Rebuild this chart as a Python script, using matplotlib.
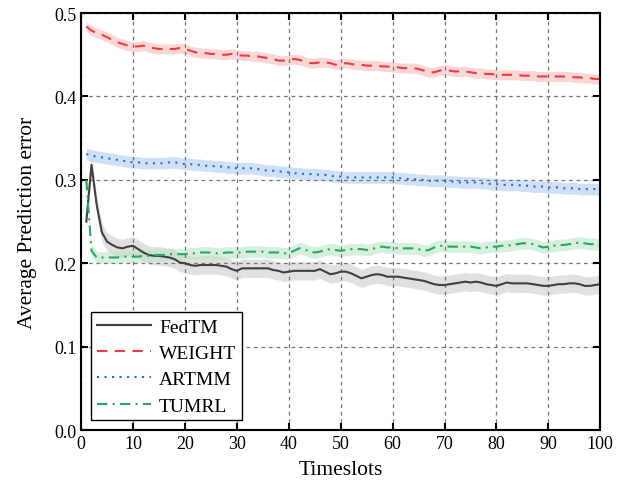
import matplotlib
matplotlib.use("Agg")
import matplotlib.pyplot as plt
import numpy as np

plt.rcParams['font.family'] = ['Liberation Serif', 'DejaVu Serif']
plt.rcParams['mathtext.fontset'] = 'stix'

timeslots = list(range(1, 101))

fedtm = [0.250, 0.318, 0.270, 0.237, 0.226, 0.222, 0.219, 0.218, 0.220, 0.221,
         0.217, 0.213, 0.210, 0.209, 0.209, 0.208, 0.207, 0.205, 0.201, 0.200,
         0.198, 0.197, 0.198, 0.198, 0.198, 0.198, 0.197, 0.196, 0.193, 0.191,
         0.194, 0.194, 0.194, 0.194, 0.194, 0.194, 0.192, 0.191, 0.189, 0.190,
         0.191, 0.191, 0.191, 0.191, 0.191, 0.193, 0.190, 0.187, 0.188, 0.190,
         0.190, 0.188, 0.185, 0.182, 0.184, 0.186, 0.187, 0.186, 0.184, 0.184,
         0.184, 0.183, 0.182, 0.181, 0.180, 0.179, 0.177, 0.175, 0.174, 0.174,
         0.175, 0.176, 0.177, 0.178, 0.177, 0.178, 0.177, 0.175, 0.174, 0.173,
         0.175, 0.177, 0.176, 0.176, 0.176, 0.176, 0.175, 0.174, 0.173, 0.173,
         0.174, 0.175, 0.175, 0.176, 0.176, 0.175, 0.173, 0.173, 0.174, 0.175]

weight = [0.484, 0.479, 0.476, 0.474, 0.471, 0.468, 0.465, 0.463, 0.461, 0.460,
          0.460, 0.461, 0.459, 0.458, 0.457, 0.457, 0.457, 0.457, 0.458, 0.457,
          0.455, 0.453, 0.452, 0.452, 0.451, 0.451, 0.450, 0.450, 0.451, 0.450,
          0.449, 0.449, 0.448, 0.448, 0.447, 0.446, 0.445, 0.443, 0.443, 0.444,
          0.445, 0.444, 0.442, 0.440, 0.440, 0.441, 0.441, 0.440, 0.438, 0.439,
          0.440, 0.439, 0.438, 0.438, 0.437, 0.437, 0.437, 0.436, 0.436, 0.435,
          0.435, 0.434, 0.434, 0.434, 0.433, 0.431, 0.429, 0.429, 0.431, 0.432,
          0.431, 0.430, 0.430, 0.430, 0.429, 0.428, 0.428, 0.427, 0.427, 0.426,
          0.426, 0.426, 0.426, 0.426, 0.425, 0.425, 0.425, 0.424, 0.424, 0.424,
          0.424, 0.424, 0.424, 0.424, 0.423, 0.423, 0.422, 0.422, 0.421, 0.421]

artmm = [0.331, 0.329, 0.328, 0.327, 0.326, 0.325, 0.324, 0.323, 0.322, 0.321,
         0.321, 0.320, 0.320, 0.320, 0.320, 0.320, 0.321, 0.321, 0.320, 0.319,
         0.319, 0.318, 0.318, 0.317, 0.317, 0.316, 0.316, 0.315, 0.315, 0.314,
         0.314, 0.314, 0.314, 0.313, 0.312, 0.311, 0.311, 0.310, 0.310, 0.309,
         0.308, 0.308, 0.307, 0.307, 0.307, 0.306, 0.306, 0.305, 0.304, 0.304,
         0.303, 0.303, 0.303, 0.303, 0.303, 0.303, 0.303, 0.303, 0.303, 0.303,
         0.302, 0.302, 0.301, 0.301, 0.300, 0.300, 0.299, 0.299, 0.299, 0.299,
         0.298, 0.298, 0.297, 0.297, 0.297, 0.297, 0.296, 0.296, 0.295, 0.295,
         0.294, 0.294, 0.294, 0.294, 0.293, 0.293, 0.292, 0.292, 0.292, 0.291,
         0.291, 0.291, 0.290, 0.290, 0.290, 0.289, 0.289, 0.289, 0.289, 0.288]

tumrl = [0.300, 0.215, 0.207, 0.207, 0.207, 0.207, 0.207, 0.208, 0.208, 0.208,
         0.208, 0.209, 0.209, 0.210, 0.210, 0.210, 0.211, 0.211, 0.211, 0.211,
         0.212, 0.212, 0.213, 0.213, 0.213, 0.212, 0.212, 0.213, 0.213, 0.213,
         0.213, 0.214, 0.214, 0.214, 0.214, 0.213, 0.213, 0.213, 0.212, 0.212,
         0.215, 0.218, 0.217, 0.214, 0.213, 0.214, 0.216, 0.217, 0.216, 0.215,
         0.216, 0.217, 0.217, 0.217, 0.216, 0.217, 0.219, 0.220, 0.219, 0.219,
         0.218, 0.218, 0.218, 0.218, 0.217, 0.215, 0.216, 0.219, 0.221, 0.221,
         0.220, 0.220, 0.220, 0.220, 0.220, 0.219, 0.218, 0.219, 0.220, 0.220,
         0.221, 0.221, 0.222, 0.223, 0.224, 0.224, 0.223, 0.221, 0.219, 0.220,
         0.221, 0.222, 0.222, 0.223, 0.224, 0.225, 0.224, 0.223, 0.223, 0.222]

names = ['FedTM', 'WEIGHT', 'ARTMM', 'TUMRL']
# half width of the shaded band round each curve
spread = [0.011, 0.006, 0.007, 0.007]


def main():
    fig = plt.figure(figsize=(6.24, 4.85), dpi=100)
    ax = fig.add_axes([0.130, 0.111, 0.832, 0.860])

    series = [fedtm, weight, artmm, tumrl]
    colors = ['#404040', '#f03c3c', '#1e6ee0', '#2aa65e']
    fills = ['#c8c8c8', '#f9b5b5', '#aac8f2', '#b5e2c6']
    styles = ['-', (0, (5, 3.5)), (0, (1, 2.6)), (0, (5, 2.5, 1, 2.5))]
    x = np.array(timeslots)
    for ys, name, c, fc, ls, s in zip(series, names, colors, fills, styles, spread):
        ys = np.array(ys)
        ax.fill_between(x, ys - s, ys + s, color=fc, alpha=0.55, linewidth=0)
        ax.plot(x, ys, color=c, linestyle=ls, linewidth=1.5, label=name)

    ax.set_xlim(0, 100)
    ax.set_ylim(0.0, 0.5)
    ax.set_xticks(range(0, 101, 10))
    ax.set_yticks(np.arange(0, 0.51, 0.1))
    ax.set_yticklabels(['0.0', '0.1', '0.2', '0.3', '0.4', '0.5'])
    ax.grid(True, color='#777777', linestyle=(0, (3, 3)), linewidth=0.9)
    ax.tick_params(direction='in', top=True, right=True, labelsize=13, length=5, width=1.5)
    for sp in ax.spines.values():
        sp.set_linewidth(1.5)
    ax.set_xlabel('Timeslots', fontsize=15.5, labelpad=6)
    ax.set_ylabel('Average Prediction error', fontsize=15.5, labelpad=12)

    leg = ax.legend(loc='lower left', fontsize=14, fancybox=False, edgecolor='black',
                    framealpha=1, handlelength=2.8, borderaxespad=0.5, labelspacing=0.45,
                    borderpad=0.3, handletextpad=0.4)
    leg.get_frame().set_linewidth(1.0)

    fig.savefig('out.png', dpi=100)
    plt.close(fig)


if __name__ == '__main__':
    main()
